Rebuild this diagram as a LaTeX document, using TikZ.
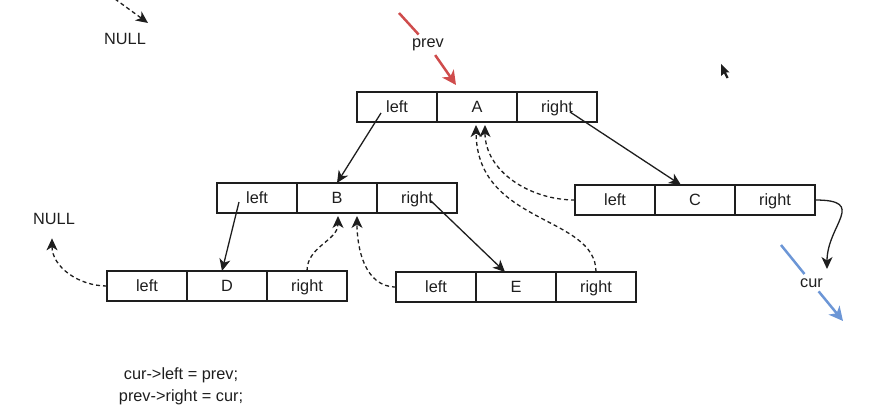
\documentclass[tikz,border=0pt]{standalone}
\usepackage{fontspec}
\setmainfont{Liberation Sans}
\usetikzlibrary{arrows.meta,calc}
\definecolor{ink}{RGB}{30,30,30}
\definecolor{prevred}{RGB}{207,76,76}
\definecolor{curblue}{RGB}{108,150,214}
\begin{document}
\begin{tikzpicture}[x=1pt,y=-1pt,
  font=\fontsize{16.3}{19.5}\selectfont, text=ink,
  cell/.style={draw=ink, line width=1.3pt, minimum width=80pt, minimum height=30pt,
    inner sep=0pt, outer sep=0pt, text height=12pt, text depth=1pt},
  ptr/.style={draw=ink, line width=1.3pt, -{Stealth[length=12pt,width=11pt,inset=3.5pt]}},
  dptr/.style={ptr, dash pattern=on 4pt off 3pt},
  lbl/.style={inner sep=0pt, anchor=base},
  colarrow/.style={line width=2.5pt}]

\useasboundingbox (0,0) rectangle (872,409);

% A
\node[cell] (Al) at (397,107) {left};
\node[cell] (Ac) at (477,107) {A};
\node[cell] (Ar) at (557,107) {right};
% B
\node[cell] (Bl) at (257,198) {left};
\node[cell] (Bc) at (337,198) {B};
\node[cell] (Br) at (417,198) {right};
% C
\node[cell] (Cl) at (615,200) {left};
\node[cell] (Cc) at (695,200) {C};
\node[cell] (Cr) at (775,200) {right};
% D
\node[cell] (Dl) at (147,286) {left};
\node[cell] (Dc) at (227,286) {D};
\node[cell] (Dr) at (307,286) {right};
% E
\node[cell] (El) at (436,287) {left};
\node[cell] (Ec) at (516,287) {E};
\node[cell] (Er) at (596,287) {right};

% labels
\node[lbl] (null1) at (125,45) {NULL};
\node[lbl] (null2) at (54,224) {NULL};
\node[lbl, inner sep=4pt] (prev) at (428,47.5) {prev};
\node[lbl, inner sep=4pt] (cur) at (811.5,287) {cur};
\node[lbl] (code1) at (181,379) {cur->left = prev;};
\node[lbl] (code2) at (181,401) {prev->right = cur;};

% free ends
\coordinate (n0) at (115,-1);
\coordinate (n1) at (148,23);
\coordinate (p0) at (399,13);
\coordinate (p1) at (456,85);
\coordinate (c0) at (781,245);
\coordinate (c1) at (843,321);
\coordinate (ct) at (827,269);

% tree pointers
\draw[ptr] ([shift={(-16,6)}]Al.center) -- (Bc.north);
\draw[ptr] ([shift={(13,5)}]Ar.center) -- ([shift={(-14,0)}]Cc.north);
\draw[ptr] ([shift={(-18,4)}]Bl.center) -- ([shift={(-5,0)}]Dc.north);
\draw[ptr] ([shift={(13,2)}]Br.center) -- ([shift={(-11,0)}]Ec.north);
\draw[ptr] (Cr.east) .. controls (868,200) and (827,225) .. (ct);

% threaded (dashed) pointers
\draw[dptr] (n0) -- (n1);
\draw[dptr] (Dl.west) to[out=180,in=-90] ([shift={(-2,14)}]null2.south);
\draw[dptr] (Dr.north) to[out=90,in=-90] ([shift={(1,3)}]Bc.south);
\draw[dptr] (El.west) to[out=180,in=-90] ([shift={(20,3)}]Bc.south);
\draw[dptr] (Cl.west) to[out=180,in=-90] ([shift={(8,3)}]Ac.south);
\draw[dptr] (Er.north) .. controls (596,215) and (477,225) .. ([shift={(-1,3)}]Ac.south);

% prev / cur markers
\draw[prevred, colarrow] (p0) -- (prev);
\draw[prevred, colarrow, -{Stealth[length=14pt,width=14pt,inset=4pt]}] (prev) -- (p1);
\draw[curblue, colarrow] (c0) -- (cur);
\draw[curblue, colarrow, -{Stealth[length=14pt,width=14pt,inset=4pt]}] (cur) -- (c1);

% mouse pointer
\fill[ink] (721,64) -- (721,76) -- (724,73.5) -- (726.5,78.5) -- (728.5,77.5) -- (726,72.5) -- (729.5,72.5) -- cycle;
\end{tikzpicture}
\end{document}
